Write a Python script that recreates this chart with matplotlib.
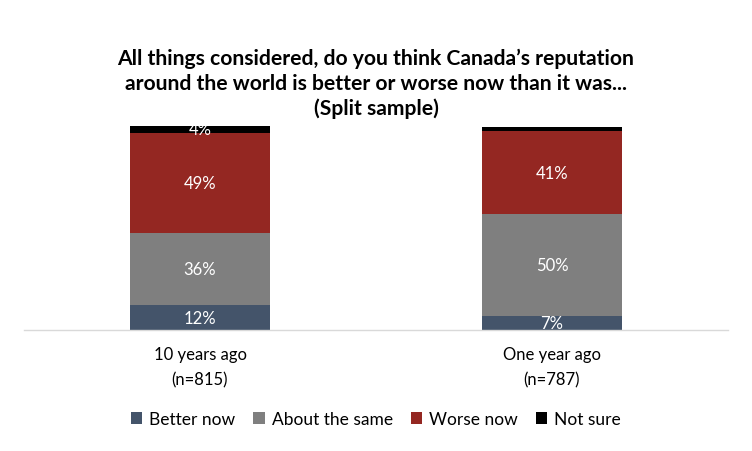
import matplotlib
matplotlib.use("Agg")
import matplotlib.pyplot as plt
import numpy as np

categories = ["10 years ago\n(n=815)", "One year ago\n(n=787)"]
series_names = ["Better now", "About the same", "Worse now", "Not sure"]
better = [12, 7]
same = [36, 50]
worse = [49, 41]
not_sure = [4, 2]
labels_show = {"Better now": [True, True], "About the same": [True, True],
               "Worse now": [True, True], "Not sure": [True, False]}
colors = ["#44546A", "#7F7F7F", "#942722", "#000000"]

plt.rcParams['font.family'] = ['Lato', 'DejaVu Sans']

fig = plt.figure(figsize=(7.52, 4.52), dpi=100)
ax = fig.add_axes([24/752, (452-330.7)/452, (728-24)/752, (330.7-126.7)/452])

x = np.arange(len(categories))
bottom = np.zeros(len(categories))
for name, vals, col in zip(series_names, [better, same, worse, not_sure], colors):
    vals = np.array(vals, dtype=float)
    ax.bar(x, vals, 0.4, bottom=bottom, color=col, label=name, zorder=2)
    for i, v in enumerate(vals):
        if labels_show[name][i]:
            ax.text(x[i], bottom[i] + v/2, f"{int(v)}%", ha="center", va="center",
                    color="white", fontsize=12, zorder=3)
    bottom += vals

ax.set_xlim(-0.5, 1.5)
ax.set_ylim(0, 100.8)
ax.set_yticks([])
ax.set_xticks(x)
ax.set_xticklabels(categories, fontsize=12, linespacing=1.65)
ax.tick_params(axis="x", length=0, pad=12)
for s in ["top", "right", "left"]:
    ax.spines[s].set_visible(False)
ax.spines["bottom"].set_color("#D9D9D9")
ax.spines["bottom"].set_linewidth(1)

fig.text(0.5, 1 - 84/452,
         "All things considered, do you think Canada\u2019s reputation\naround the world is better or worse now than it was...\n(Split sample)",
         ha="center", va="center", fontsize=15.2, fontweight="bold", linespacing=1.3)

leg = fig.legend(loc="center", bbox_to_anchor=(0.5, 1 - 420/452), ncol=4, frameon=False,
                 fontsize=12.5, handlelength=0.65, handleheight=0.65, columnspacing=1.05,
                 handletextpad=0.4)

fig.savefig("out.png", dpi=100)
